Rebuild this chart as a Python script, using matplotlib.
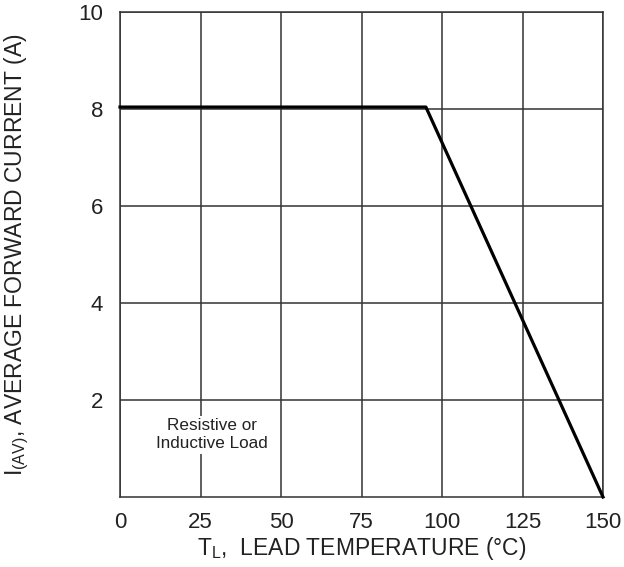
import matplotlib
matplotlib.use("Agg")
import matplotlib.pyplot as plt

plt.rcParams['font.family'] = ['Liberation Sans', 'DejaVu Sans']

temp = [0, 95, 150]
current = [8.04, 8.04, 0]
xticks = [0, 25, 50, 75, 100, 125, 150]
yticks = [2, 4, 6, 8, 10]

fig = plt.figure(figsize=(6.24, 5.67), dpi=100)
ax = fig.add_axes([120/624, 1-497/567, 483/624, 485/567])
ax.set_xlim(0, 150)
ax.set_ylim(0, 10)
ax.set_xticks(xticks)
ax.set_yticks(yticks)
ax.tick_params(length=0, labelsize=16, colors='#222222')
ax.tick_params(axis='x', pad=11)
ax.tick_params(axis='y', pad=12)
ax.grid(True, color='#333333', linewidth=1.1)
ax.set_axisbelow(True)
for s in ax.spines.values():
    s.set_color('#333333')
    s.set_linewidth(1.1)
ax.plot(temp, current, color='black', linewidth=2.3, clip_on=False, zorder=5)
ax.text(28.5, 1.28, "Resistive or\nInductive Load", ha='center', va='center', fontsize=12.3,
        color='#222222', linespacing=1.25,
        bbox=dict(facecolor='white', edgecolor='none', pad=2), zorder=4)
ax.set_xlabel(r"T$_\mathregular{L}$,  LEAD TEMPERATURE (°C)", fontsize=16.5, color='#222222', labelpad=1)
ax.set_ylabel(r"I$_\mathregular{(AV)}$, AVERAGE FORWARD CURRENT (A)", fontsize=16.5, color='#222222', labelpad=34)
fig.savefig("out.png", dpi=100)
